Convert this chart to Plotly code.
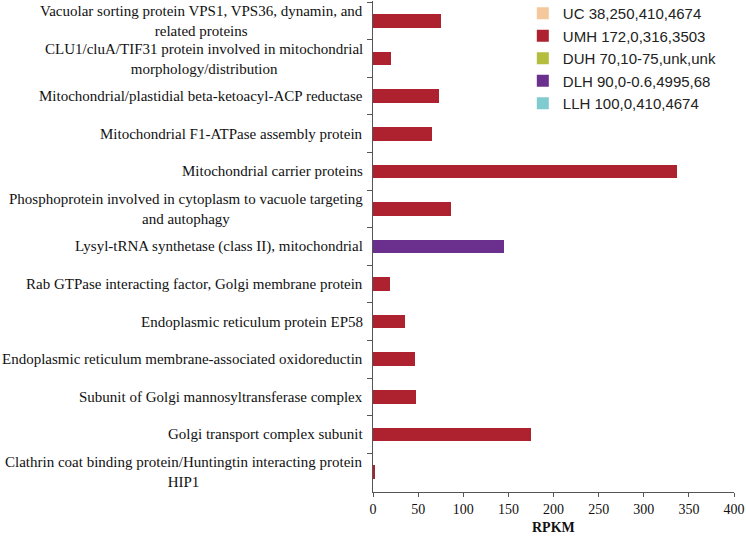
import plotly.graph_objects as go

# categories, top to bottom
categories = [
    "Vacuolar sorting protein VPS1, VPS36, dynamin, and<br>related proteins",
    "CLU1/cluA/TIF31 protein involved in mitochondrial<br>morphology/distribution",
    "Mitochondrial/plastidial beta-ketoacyl-ACP reductase",
    "Mitochondrial F1-ATPase assembly protein",
    "Mitochondrial carrier proteins",
    "Phosphoprotein involved in cytoplasm to vacuole targeting<br>and autophagy",
    "Lysyl-tRNA synthetase (class II), mitochondrial",
    "Rab GTPase interacting factor, Golgi membrane protein",
    "Endoplasmic reticulum protein EP58",
    "Endoplasmic reticulum membrane-associated oxidoreductin",
    "Subunit of Golgi mannosyltransferase complex",
    "Golgi transport complex subunit",
    "Clathrin coat binding protein/Huntingtin interacting protein<br>HIP1",
]

series_names = ["UC 38,250,410,4674", "UMH 172,0,316,3503", "DUH 70,10-75,unk,unk",
                "DLH 90,0-0.6,4995,68", "LLH 100,0,410,4674"]
series_colors = ["#F4C89C", "#AE2230", "#B5BE3C", "#6B2F8E", "#80CBD0"]

uc = [None] * 13
umh = [75, 20, 73, 65.5, 337, 86, None, 19, 36, 46, 48, 175.5, 1.5]
duh = [None] * 13
dlh = [None, None, None, None, None, None, 145, None, None, None, None, None, None]
llh = [None] * 13
series_values = [uc, umh, duh, dlh, llh]

fig = go.Figure()
for name, color, vals in zip(series_names, series_colors, series_values):
    fig.add_trace(go.Bar(y=categories, x=vals, name=name, orientation="h",
                         marker=dict(color=color, line=dict(width=0))))

# centred multi-line category labels
for c in categories:
    fig.add_annotation(x=0, xref="paper", xanchor="right", xshift=-8,
                       y=c, yref="y", text=c, showarrow=False, align="center",
                       font=dict(family="Liberation Serif", size=15, color="#111"))

fig.add_annotation(x=0.5, xref="paper", y=0, yref="paper", yshift=-35, yanchor="middle",
                   text="<b>RPKM</b>", showarrow=False,
                   font=dict(family="Liberation Serif", size=14, color="#111"))

fig.update_layout(
    width=746, height=539,
    margin=dict(l=373, r=12, t=1, b=47, autoexpand=False),
    barmode="stack", bargap=0.64,
    plot_bgcolor="white", paper_bgcolor="white",
    font=dict(family="Liberation Serif", size=14, color="#111"),
    legend=dict(x=0.415, y=1.008, xanchor="left", yanchor="top", traceorder="normal",
                font=dict(family="Liberation Sans", size=15, color="#222"),
                bgcolor="rgba(0,0,0,0)", tracegroupgap=0, itemwidth=30),
    showlegend=True,
)
fig.update_xaxes(range=[0, 400], dtick=50, showgrid=False, zeroline=False,
                 showline=True, linecolor="#555", linewidth=1, automargin=False,
                 ticks="outside", ticklen=4, tickcolor="#555",
                 tickfont=dict(family="Liberation Serif", size=14))
fig.update_yaxes(autorange="reversed", showticklabels=False, showgrid=False,
                 showline=True, linecolor="#555", linewidth=1, automargin=False,
                 ticks="outside", ticklen=5, tickcolor="#555", tickson="boundaries")

# page body has a default 8px margin; drop it so the figure fills the window
fig.write_html("out.html", config={"displayModeBar": False},
               post_script="document.body.style.margin='0px';")
